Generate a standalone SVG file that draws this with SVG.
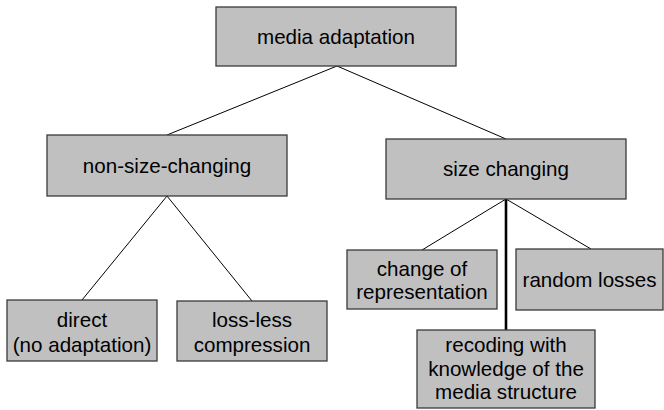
<svg xmlns="http://www.w3.org/2000/svg" width="664" height="410" viewBox="0 0 664 410">
<style>
.box{fill:#c0c0c0;stroke:#3a3a3a;stroke-width:1.3}
.t{font-family:"Liberation Sans",Arial,sans-serif;font-size:20.6px;fill:#000;text-anchor:middle}
.c{stroke:#000;stroke-width:1;fill:none}
.ct{stroke:#000;stroke-width:2.6;fill:none}
</style>
<rect width="664" height="410" fill="#fff"/>
<g id="connectors">
<line class="c" x1="337" y1="66" x2="167" y2="135"/>
<line class="c" x1="337" y1="66" x2="506" y2="139"/>
<line class="c" x1="167" y1="196" x2="82" y2="300"/>
<line class="c" x1="167" y1="196" x2="252" y2="301"/>
<line class="c" x1="506" y1="199" x2="422" y2="250"/>
<line class="c" x1="506" y1="199" x2="591" y2="249"/>
<line class="ct" x1="506" y1="199" x2="506" y2="330"/>
</g>
<g id="media-adaptation">
<rect class="box" x="216" y="7" width="240" height="59"/>
<text class="t" x="336" y="44">media adaptation</text>
</g>
<g id="non-size-changing">
<rect class="box" x="47" y="135" width="240" height="61"/>
<text class="t" x="167" y="173">non-size-changing</text>
</g>
<g id="size-changing">
<rect class="box" x="386" y="139" width="240" height="60"/>
<text class="t" x="506" y="176">size changing</text>
</g>
<g id="direct">
<rect class="box" x="7" y="300" width="150" height="61"/>
<text class="t" x="82" y="327">direct</text>
<text class="t" x="82" y="352">(no adaptation)</text>
</g>
<g id="loss-less">
<rect class="box" x="177" y="301" width="150" height="60"/>
<text class="t" x="252" y="327">loss-less</text>
<text class="t" x="252" y="352">compression</text>
</g>
<g id="change-of-representation">
<rect class="box" x="347" y="250" width="150" height="59"/>
<text class="t" x="422" y="276">change of</text>
<text class="t" x="422" y="299">representation</text>
</g>
<g id="random-losses">
<rect class="box" x="516" y="249" width="147" height="61"/>
<text class="t" x="589.5" y="287">random losses</text>
</g>
<g id="recoding">
<rect class="box" x="417" y="330" width="178" height="78"/>
<text class="t" x="506" y="352">recoding with</text>
<text class="t" x="506" y="376">knowledge of the</text>
<text class="t" x="506" y="399">media structure</text>
</g>
</svg>
